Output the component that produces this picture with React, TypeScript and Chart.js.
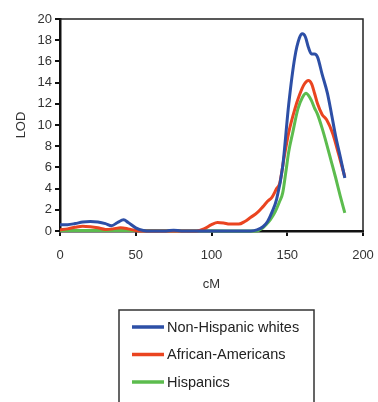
import React, { useEffect, useRef } from "react";
import { Chart, registerables } from "chart.js";

Chart.register(...registerables);

const seriesNames = ["Non-Hispanic whites", "African-Americans", "Hispanics"];
const seriesColors = ["#2d4fa6", "#ea4420", "#5cbc4e"];

const whitesCM = [0, 5, 10, 15, 20, 25, 30, 34, 38, 42, 45, 50, 55, 60, 70, 75, 80, 90, 100, 110, 120, 126, 130, 134, 137, 140, 143, 147, 151, 155, 158, 160, 162, 164, 166, 168, 170, 173, 176.5, 179, 182, 185, 188];
const whitesLOD = [0.6, 0.6, 0.7, 0.85, 0.9, 0.85, 0.7, 0.5, 0.8, 1.05, 0.8, 0.3, 0.05, 0, 0, 0.08, 0, 0, 0, 0, 0, 0, 0.1, 0.4, 0.9, 1.8, 3.0, 6.1, 12.0, 16.4, 18.2, 18.6, 18.3, 17.3, 16.7, 16.7, 16.4, 14.8, 13.0, 11.2, 8.9, 7.0, 5.0];

const africanCM = [0, 5, 10, 15, 20, 25, 30, 35, 40, 45, 50, 55, 60, 90, 95, 100, 104, 108, 112, 118, 122, 126, 130, 134, 137, 140, 143, 145, 148, 151, 155, 158, 161, 164, 166, 168, 170, 173, 176, 180, 184, 188];
const africanLOD = [0.1, 0.2, 0.35, 0.45, 0.4, 0.3, 0.15, 0.2, 0.3, 0.2, 0.05, 0, 0, 0, 0.2, 0.6, 0.8, 0.75, 0.65, 0.65, 0.9, 1.3, 1.7, 2.3, 2.8, 3.2, 4.0, 4.5, 7.0, 9.3, 11.5, 12.8, 13.8, 14.2, 13.9, 13.0, 12.0, 11.0, 10.5, 9.2, 7.2, 5.1];

const hispanicCM = [0, 50, 100, 130, 133, 136, 139, 142, 145, 147, 149, 151, 153.5, 157, 160, 162.5, 164, 166, 168, 170, 173, 176, 179, 182, 185, 188];
const hispanicLOD = [0.05, 0.05, 0.02, 0, 0.2, 0.6, 1.1, 1.8, 2.8, 3.6, 5.5, 7.5, 9.2, 11.5, 12.6, 13.0, 12.8, 12.3, 11.6, 11.0, 9.7, 8.2, 6.6, 5.0, 3.3, 1.7];

const xTicks = [0, 50, 100, 150, 200];
const yTicks = [0, 2, 4, 6, 8, 10, 12, 14, 16, 18, 20];

const toPoints = (xs: number[], ys: number[]) => xs.map((x, i) => ({ x, y: ys[i] }));

const FONT = "'Liberation Sans', Arial, sans-serif";

const framePlugin = {
  id: "frameAndLegend",
  afterDraw(chart: any) {
    const { ctx, chartArea } = chart;
    ctx.save();
    ctx.strokeStyle = "#222";
    ctx.lineWidth = 1.5;
    ctx.beginPath();
    ctx.moveTo(chartArea.left, chartArea.top);
    ctx.lineTo(chartArea.right, chartArea.top);
    ctx.lineTo(chartArea.right, chartArea.bottom);
    ctx.stroke();

    const bx = 119, by = 310, bw = 195, bh = 100;
    ctx.strokeStyle = "#333";
    ctx.lineWidth = 1.5;
    ctx.strokeRect(bx, by, bw, bh);
    chart.data.datasets.forEach((ds: any, i: number) => {
      const y = 327 + i * 27.5;
      ctx.strokeStyle = ds.borderColor;
      ctx.lineWidth = 3.5;
      ctx.beginPath();
      ctx.moveTo(132, y);
      ctx.lineTo(164, y);
      ctx.stroke();
      ctx.fillStyle = "#222";
      ctx.font = `14.5px ${FONT}`;
      ctx.textBaseline = "middle";
      ctx.textAlign = "left";
      ctx.fillText(ds.label, 167, y + 0.5);
    });
    ctx.restore();
  },
};

export default function App() {
  const ref = useRef<HTMLCanvasElement>(null);

  useEffect(() => {
    if (!ref.current) return;
    const xs = [whitesCM, africanCM, hispanicCM];
    const ys = [whitesLOD, africanLOD, hispanicLOD];
    const chart = new Chart(ref.current, {
      type: "line",
      data: {
        datasets: seriesNames.map((name, i) => ({
          label: name,
          data: toPoints(xs[i], ys[i]),
          borderColor: seriesColors[i],
          backgroundColor: seriesColors[i],
          borderWidth: 3,
          pointRadius: 0,
          cubicInterpolationMode: "monotone" as const,
          clip: 8,
        })),
      },
      options: {
        animation: false,
        responsive: false,
        layout: { padding: { top: 19, right: 15, bottom: 110, left: 0 } },
        plugins: { legend: { display: false }, tooltip: { enabled: false } },
        scales: {
          x: {
            type: "linear",
            min: 0,
            max: 200,
            afterBuildTicks: (s: any) => {
              s.ticks = xTicks.map((v) => ({ value: v }));
            },
            afterFit: (s: any) => {
              s.height = 61;
              s.paddingLeft = 0;
              s.paddingRight = 0;
            },
            ticks: { color: "#333", font: { size: 13, family: FONT }, padding: 12, maxRotation: 0 },
            grid: { drawOnChartArea: false, tickLength: 5, color: "#111", lineWidth: 2 },
            border: { color: "#111", width: 2.5 },
            title: { display: true, text: "cM", color: "#333", font: { size: 13, family: FONT }, padding: { top: 0, bottom: 0 } },
          },
          y: {
            type: "linear",
            min: 0,
            max: 20,
            afterBuildTicks: (s: any) => {
              s.ticks = yTicks.map((v) => ({ value: v }));
            },
            afterFit: (s: any) => {
              s.width = 60;
              s.paddingTop = 0;
              s.paddingBottom = 0;
            },
            ticks: { color: "#333", font: { size: 13, family: FONT }, padding: 3 },
            grid: { drawOnChartArea: false, tickLength: 5, color: "#111", lineWidth: 2 },
            border: { color: "#111", width: 2.5 },
            title: { display: true, text: "LOD", color: "#333", font: { size: 13, family: FONT }, padding: { top: 14, bottom: 0 } },
          },
        },
      },
      plugins: [framePlugin],
    });
    return () => chart.destroy();
  }, []);

  return (
    <div style={{ position: "absolute", left: 0, top: 0, width: 378, height: 402, background: "#fff" }}>
      <canvas ref={ref} width={378} height={402} style={{ display: "block" }} />
    </div>
  );
}
